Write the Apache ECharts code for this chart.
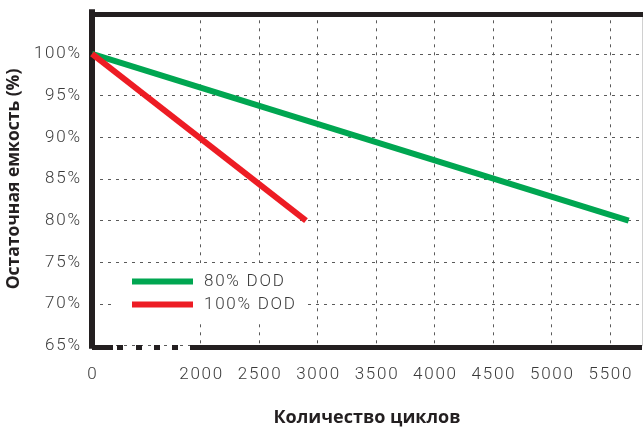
<!DOCTYPE html>
<html><head><meta charset="utf-8">
<script src="https://cdn.jsdelivr.net/npm/echarts@6/dist/echarts.min.js"></script>
<style>html,body{margin:0;padding:0;background:#fff}#c{width:643px;height:432px}</style>
</head><body><div id="c"></div>
<script>
// ---- data ----
var seriesNames = ['80% DOD', '100% DOD'];
var cycles80 = [0, 5660];
var capacity80 = [100, 80];
var cycles100 = [0, 2900];
var capacity100 = [100, 80];
var xTickValues = [0, 2000, 2500, 3000, 3500, 4000, 4500, 5000, 5500];
var yTickValues = [65, 70, 75, 80, 85, 90, 95, 100];
var colors = ['#00a651', '#ed1c24'];

// broken x axis: 0..2000 compressed
var AXIS_ZERO = 1070, AXIS_MAX = 5774;
function toAxis(c) { return c >= 2000 ? c : AXIS_ZERO + c * (2000 - AXIS_ZERO) / 2000; }
function fromAxis(v) { return v >= 2000 ? v : Math.round((v - AXIS_ZERO) * 2000 / (2000 - AXIS_ZERO)); }
function spaced(s) { return String(s).split('').join('\u200A'); }

var pts80 = cycles80.map(function (c, i) { return [toAxis(c), capacity80[i]]; });
var pts100 = cycles100.map(function (c, i) { return [toAxis(c), capacity100[i]]; });

var tickFont = { fontFamily: 'Roboto', fontSize: 17, color: '#3a3a3a', fontWeight: 300 };
var chart = echarts.init(document.getElementById('c'), null, { renderer: 'canvas' });
chart.setOption({
  animation: false,
  grid: { left: 92, right: 1, top: 12.3, bottom: 86.3, outerBoundsMode: 'none', containLabel: false },
  xAxis: [{
    type: 'value', min: AXIS_ZERO, max: AXIS_MAX, position: 'bottom', offset: 2,
    axisLine: { show: true, lineStyle: { color: '#231f20', width: 5, type: [21, 4, 6, 13, 6, 12, 6, 12, 6, 12, 3000], cap: 'butt' } },
    axisTick: { show: false, customValues: xTickValues.slice(1).map(toAxis) },
    axisLabel: Object.assign({ customValues: xTickValues.map(toAxis), margin: 19,
      formatter: function (v) { return spaced(fromAxis(v)); } }, tickFont),
    splitLine: { show: true, lineStyle: { color: '#5a5a5a', width: 1, type: [3, 5] } },
    name: 'Количество циклов', nameLocation: 'middle', nameGap: 61,
    nameTextStyle: { fontFamily: 'Open Sans', fontWeight: 'bold', fontSize: 18, color: '#231f20' }
  }, {
    type: 'value', min: AXIS_ZERO, max: AXIS_MAX, position: 'top', offset: -1.5,
    axisLine: { show: true, lineStyle: { color: '#231f20', width: 5, cap: 'square' } },
    axisTick: { show: false }, axisLabel: { show: false }, splitLine: { show: false }
  }],
  yAxis: [{
    type: 'value', min: 65, max: 105, interval: 5,
    axisLine: { show: true, lineStyle: { color: '#231f20', width: 6, cap: 'square' } },
    axisTick: { show: false },
    axisLabel: Object.assign({ margin: 12, customValues: yTickValues,
      formatter: function (v) { return spaced(v + '%'); } }, tickFont),
    splitLine: { show: true, lineStyle: { color: '#5a5a5a', width: 1, type: [3, 5] } },
    name: 'Остаточная емкость (%)', nameLocation: 'middle', nameGap: 62, nameRotate: 90,
    nameTextStyle: { fontFamily: 'Open Sans', fontWeight: 'bold', fontSize: 17.5, color: '#231f20' }
  }, {
    type: 'value', min: 65, max: 105, position: 'right',
    axisLine: { show: true, lineStyle: { color: '#d0d0d0', width: 1 } },
    axisTick: { show: false }, axisLabel: { show: false }, splitLine: { show: false }
  }],
  legend: {
    left: 115, top: 263, orient: 'vertical', padding: [10, 12, 9, 17], itemGap: 6,
    backgroundColor: '#fff', itemWidth: 61, itemHeight: 6, icon: 'rect',
    textStyle: { fontFamily: 'Roboto', fontSize: 17, fontWeight: 300, color: '#3a3a3a', padding: [0, 0, 0, 6], lineHeight: 16 },
    formatter: function (n) { return spaced(n).replace('%\u200A\u200A', '%\u2009\u2009'); },
    data: seriesNames
  },
  series: [{
    name: seriesNames[0], type: 'line', data: pts80, showSymbol: false, symbol: 'none',
    lineStyle: { color: colors[0], width: 6 }, itemStyle: { color: colors[0] }, z: 3
  }, {
    name: seriesNames[1], type: 'line', data: pts100, showSymbol: false, symbol: 'none',
    lineStyle: { color: colors[1], width: 6 }, itemStyle: { color: colors[1] }, z: 4
  }]
});
</script></body></html>
